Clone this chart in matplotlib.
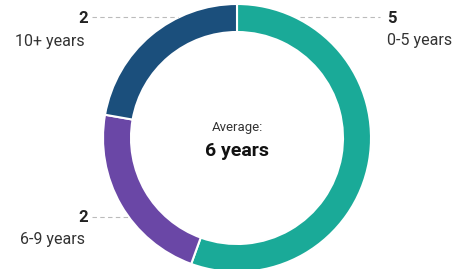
import matplotlib.pyplot as plt
from matplotlib.patches import Wedge

# data
categories = ['0-5 years', '6-9 years', '10+ years']
counts = [5, 2, 2]
colors = ['#1aaa98', '#6a47a6', '#1b4f7c']
average_label = '6 years'

plt.rcParams['font.family'] = ['Roboto', 'DejaVu Sans']

fig = plt.figure(figsize=(4.6, 2.69), dpi=100)
ax = fig.add_axes([0, 0, 1, 1])
ax.set_xlim(0, 460)
ax.set_ylim(269, 0)
ax.set_aspect('equal')
ax.axis('off')

cx, cy = 237, 138
r_out, width = 134, 28

# wedges clockwise from top (y axis is inverted, so angles run the other way)
total = sum(counts)
start = -90.0
for n, col in zip(counts, colors):
    span = 360.0 * n / total
    ax.add_patch(Wedge((cx, cy), r_out, start, start + span, width=width,
                       facecolor=col, edgecolor='white', linewidth=1.5))
    start += span

# leader lines
dash = dict(color='#bbbbbb', linewidth=0.8, linestyle=(0, (4, 3)))
ax.plot([92, 178], [17, 17], **dash)
ax.plot([300, 380], [17, 17], **dash)
ax.plot([92, 128], [217, 217], **dash)

# labels
num = dict(fontsize=12, color='#222222', fontweight='bold', va='center')
lab = dict(fontsize=11.5, color='#333333', va='center')
ax.text(88, 18, str(counts[2]), ha='right', **num)
ax.text(85, 41, categories[2], ha='right', **lab)
ax.text(387, 18, str(counts[0]), ha='left', **num)
ax.text(387, 40, categories[0], ha='left', **lab)
ax.text(88, 218, str(counts[1]), ha='right', **num)
ax.text(85, 240, categories[1], ha='right', **lab)

ax.text(cx, 128, 'Average:', ha='center', va='center', fontsize=9.5, color='#333333')
ax.text(cx, 151, average_label, ha='center', va='center', fontsize=14,
        fontweight='bold', color='#111111')

fig.savefig('out.png', dpi=100)
